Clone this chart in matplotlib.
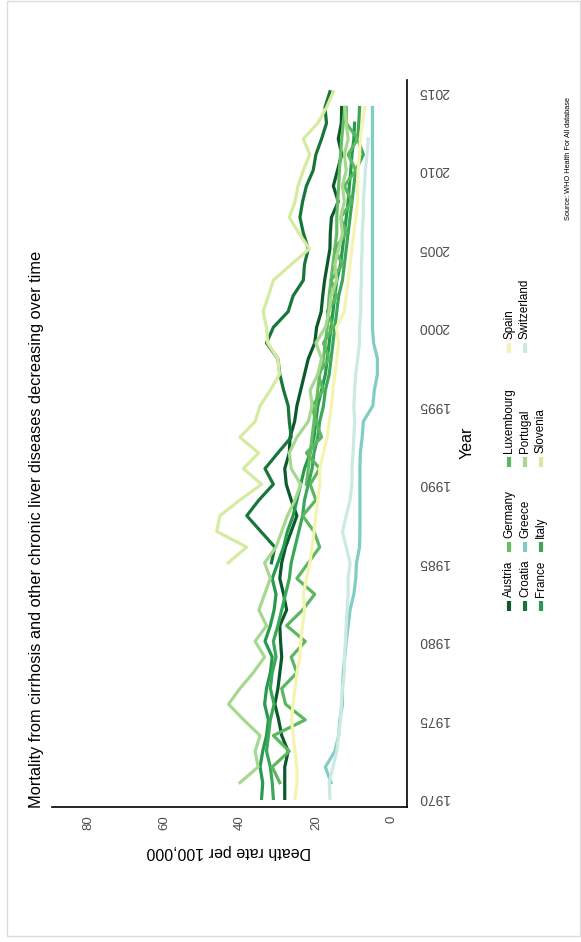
import numpy as np
import matplotlib
matplotlib.use("Agg")
import matplotlib.pyplot as plt
from matplotlib.lines import Line2D
from matplotlib.patches import Rectangle

plt.rcParams['font.family'] = ['Liberation Sans', 'DejaVu Sans']

nan = np.nan
years = list(range(1970, 2016))

austria = [28.2, 28.2, 28.2, 27.3, 29.0, 29.8, 30.8, 30.0, 29.5, 29.0,
           29.3, 29.5, 27.7, 28.5, 29.5, 29.0, 28.0, 26.5, 25.0, 26.5,
           27.8, 28.2, 27.0, 26.8, 25.6, 25.0, 24.0, 23.0, 22.0, 20.3,
           19.8, 18.6, 18.2, 17.7, 17.0, 16.3, 16.2, 15.9, 14.1, 15.4,
           14.3, 13.2, 14.1, 13.3, 13.2, nan]
croatia = [nan] * 15 + [31.7, 30.8, 34.5, 38.2, 35.0,
           31.2, 33.4, 30.0, 26.5, 27.0, 27.3, 28.5, 29.5, 30.0, 33.0,
           31.2, 27.3, 26.0, 23.3, 23.0, 22.0, 23.3, 24.2, 23.5, 22.5,
           20.7, 20.0, 18.5, 17.2, 17.6, 16.3]
france = [34.3, 34.0, 34.7, 34.0, 33.0, 32.5, 33.5, 33.0, 32.0, 31.5,
          33.4, 32.0, 31.0, 30.5, 31.5, 30.0, 28.5, 27.5, 26.0, 25.0,
          24.0, 23.0, 21.5, 20.5, 20.0, 19.5, 18.5, 17.5, 17.0, 16.5,
          16.0, 15.5, 15.0, 14.5, 13.5, 13.0, 12.5, 12.0, 11.5, 11.2,
          10.8, 10.5, 10.0, 9.8, nan, nan]
germany = [nan] * 20 + [22.5, 22.0, 21.5, 21.0, 20.5, 20.0, 19.5, 19.0, 18.0, 17.5,
           17.0, 16.8, 16.5, 16.0, 15.5, 15.0, 14.5, 14.5, 14.3, 14.0,
           13.8, 13.5, 13.2, 12.8, 12.4, nan]
greece = [nan, 16.0, 17.5, 15.0, 14.0, 13.7, 13.0, 13.0, 12.8, 12.4,
          12.0, 11.5, 11.0, 10.0, 9.5, 9.3, 8.5, 8.4, 8.4, 8.4,
          8.4, 8.4, 8.3, 7.8, 7.5, 5.0, 4.6, 3.8, 3.8, 4.8,
          5.1, 5.1, 5.1, 5.1, 5.1, 5.1, 5.1, 5.1, 5.1, 5.1,
          5.1, 5.1, 5.1, 5.1, 5.1, nan]
italy = [31.2, 31.5, 32.0, 33.0, 32.5, 32.0, 31.0, 32.0, 31.5, 30.5,
         31.2, 30.0, 29.0, 28.0, 27.0, 26.5, 25.5, 24.5, 23.5, 23.0,
         22.0, 21.0, 20.5, 19.5, 19.0, 18.0, 17.5, 16.5, 16.0, 15.5,
         15.0, 14.5, 14.0, 13.0, 12.5, 12.0, 11.5, 11.0, 10.5, 10.0,
         9.5, 7.5, 9.0, 8.7, 8.5, nan]
luxembourg = [nan, 29.5, 31.5, 27.0, 31.2, 22.8, 28.0, 29.0, 25.0, 26.5,
              22.8, 27.7, 23.5, 20.3, 25.0, 22.0, 19.0, 20.5, 23.5, 20.0,
              21.5, 19.0, 22.5, 18.5, 20.0, 21.0, 18.0, 19.5, 16.5, 18.0,
              15.5, 17.0, 14.5, 16.0, 13.0, 15.0, 12.0, 13.5, 10.5, 12.5,
              9.5, 11.5, 9.0, 12.0, 12.0, nan]
portugal = [nan, 40.0, 35.2, 36.0, 34.7, 39.0, 43.0, 40.0, 36.5, 33.5,
            36.0, 33.0, 35.0, 33.5, 32.0, 33.5, 30.5, 29.0, 27.5, 25.5,
            24.0, 26.5, 27.0, 25.0, 22.0, 21.0, 21.5, 19.5, 18.5, 20.0,
            17.5, 16.5, 16.0, 14.5, 15.0, 14.0, 13.0, 13.5, 12.5, 13.0,
            12.0, 12.5, 11.5, 12.0, 12.4, nan]
slovenia = [nan] * 15 + [43.1, 38.2, 46.1, 45.3, 40.0,
            34.3, 39.1, 35.1, 40.0, 36.0, 34.7, 32.0, 29.6, 30.0, 32.7,
            33.0, 33.9, 32.5, 31.2, 26.5, 21.7, 24.5, 27.0, 25.5, 24.7,
            23.3, 21.6, 23.3, 19.5, 17.2, 15.4]
spain = [25.5, 25.0, 25.0, 25.5, 26.0, 26.4, 26.0, 25.5, 25.0, 24.2,
         24.0, 23.5, 23.0, 23.3, 22.5, 21.6, 21.0, 20.5, 20.0, 19.5,
         19.0, 19.0, 18.0, 17.0, 16.5, 15.9, 15.5, 15.0, 14.5, 14.0,
         14.6, 12.5, 12.0, 11.5, 11.0, 10.5, 10.0, 9.5, 9.0, 9.0,
         8.9, 8.5, 8.3, 7.8, 7.1, nan]
switzerland = [16.3, 16.5, 15.5, 14.5, 14.0, 13.5, 13.3, 13.0, 12.5, 12.5,
               12.2, 12.0, 11.8, 11.5, 11.5, 11.0, 12.0, 13.0, 12.0, 11.0,
               10.5, 10.5, 10.2, 10.0, 9.8, 10.0, 9.8, 9.5, 9.0, 8.5,
               8.5, 8.2, 8.2, 8.0, 8.0, 7.8, 7.8, 7.5, 7.5, 7.2,
               7.0, 6.5, 6.2, nan, nan, nan]

countries = ['Austria', 'Croatia', 'France', 'Germany', 'Greece', 'Italy',
             'Luxembourg', 'Portugal', 'Slovenia', 'Spain', 'Switzerland']
series = [austria, croatia, france, germany, greece, italy,
          luxembourg, portugal, slovenia, spain, switzerland]
colors = ['#0b5a2b', '#17773a', '#279a4e', '#66bd63', '#7fcdc4', '#3aa858',
          '#5cb85f', '#a6d98f', '#d5eca0', '#f4f4b0', '#cbeae4']

rate_ticks = [0, 20, 40, 60, 80]
year_ticks = [1970, 1975, 1980, 1985, 1990, 1995, 2000, 2005, 2010, 2015]

W, H = 581, 942
fig = plt.figure(figsize=(W / 100, H / 100), dpi=100)

def fx(px):
    return px / W

def fy(py):
    return 1 - py / H

# light frame
fig.add_artist(Rectangle((fx(7), fy(936)), fx(573), 935 / H, transform=fig.transFigure,
                         fill=False, edgecolor='#dcdcdc', lw=1))

ax = fig.add_axes([fx(52), fy(807), fx(407) - fx(52), (807 - 80) / H])
for name, vals, col in zip(countries, series, colors):
    ax.plot(vals, years, color=col, lw=2.3)

ax.set_xlim(89.5, -4.0)
ax.set_ylim(1969.45, 2015.75)
for s in ['top', 'left']:
    ax.spines[s].set_visible(False)
for s in ['bottom', 'right']:
    ax.spines[s].set_color('black')
    ax.spines[s].set_linewidth(1.2)

ax.set_xticks(rate_ticks)
ax.set_xticklabels([str(t) for t in rate_ticks], rotation=90, fontsize=9.5, color='#4d4d4d')
ax.yaxis.tick_right()
ax.set_yticks(year_ticks)
ax.set_yticklabels([str(t) for t in year_ticks], rotation=180, fontsize=10, color='#4d4d4d',
                   va='center', ha='left')
ax.tick_params(axis='both', length=0)
ax.tick_params(axis='x', pad=6)
ax.tick_params(axis='y', pad=8)

# axis titles
fig.text(fx(229), fy(852), 'Death rate per 100,000', rotation=180, fontsize=11.5,
         ha='center', va='center')
fig.text(fx(467), fy(443), 'Year', rotation=90, fontsize=11.5, ha='center', va='center')

# title
fig.text(fx(37), fy(808), 'Mortality from cirrhosis and other chronic liver diseases decreasing over time',
         rotation=90, fontsize=11.8, ha='left', va='center', rotation_mode='anchor')

# legend (rotated)
row_x = [509, 525, 541]
col_key_y = [606, 547, 462, 348]
for i, (name, col) in enumerate(zip(countries, colors)):
    c, r = divmod(i, 3)
    x = row_x[r]
    ky = col_key_y[c]
    fig.add_artist(Line2D([fx(x), fx(x)], [fy(ky + 5), fy(ky - 5)], transform=fig.transFigure,
                          color=col, lw=3, solid_capstyle='butt'))
    fig.text(fx(x), fy(ky - 9), name, rotation=90, fontsize=8.4, ha='left', va='center',
             rotation_mode='anchor')

# caption
fig.text(fx(568), fy(220), 'Source: WHO Health For All database', rotation=90, fontsize=5.3,
         ha='left', va='center', rotation_mode='anchor')

fig.savefig('out.png', dpi=100)
